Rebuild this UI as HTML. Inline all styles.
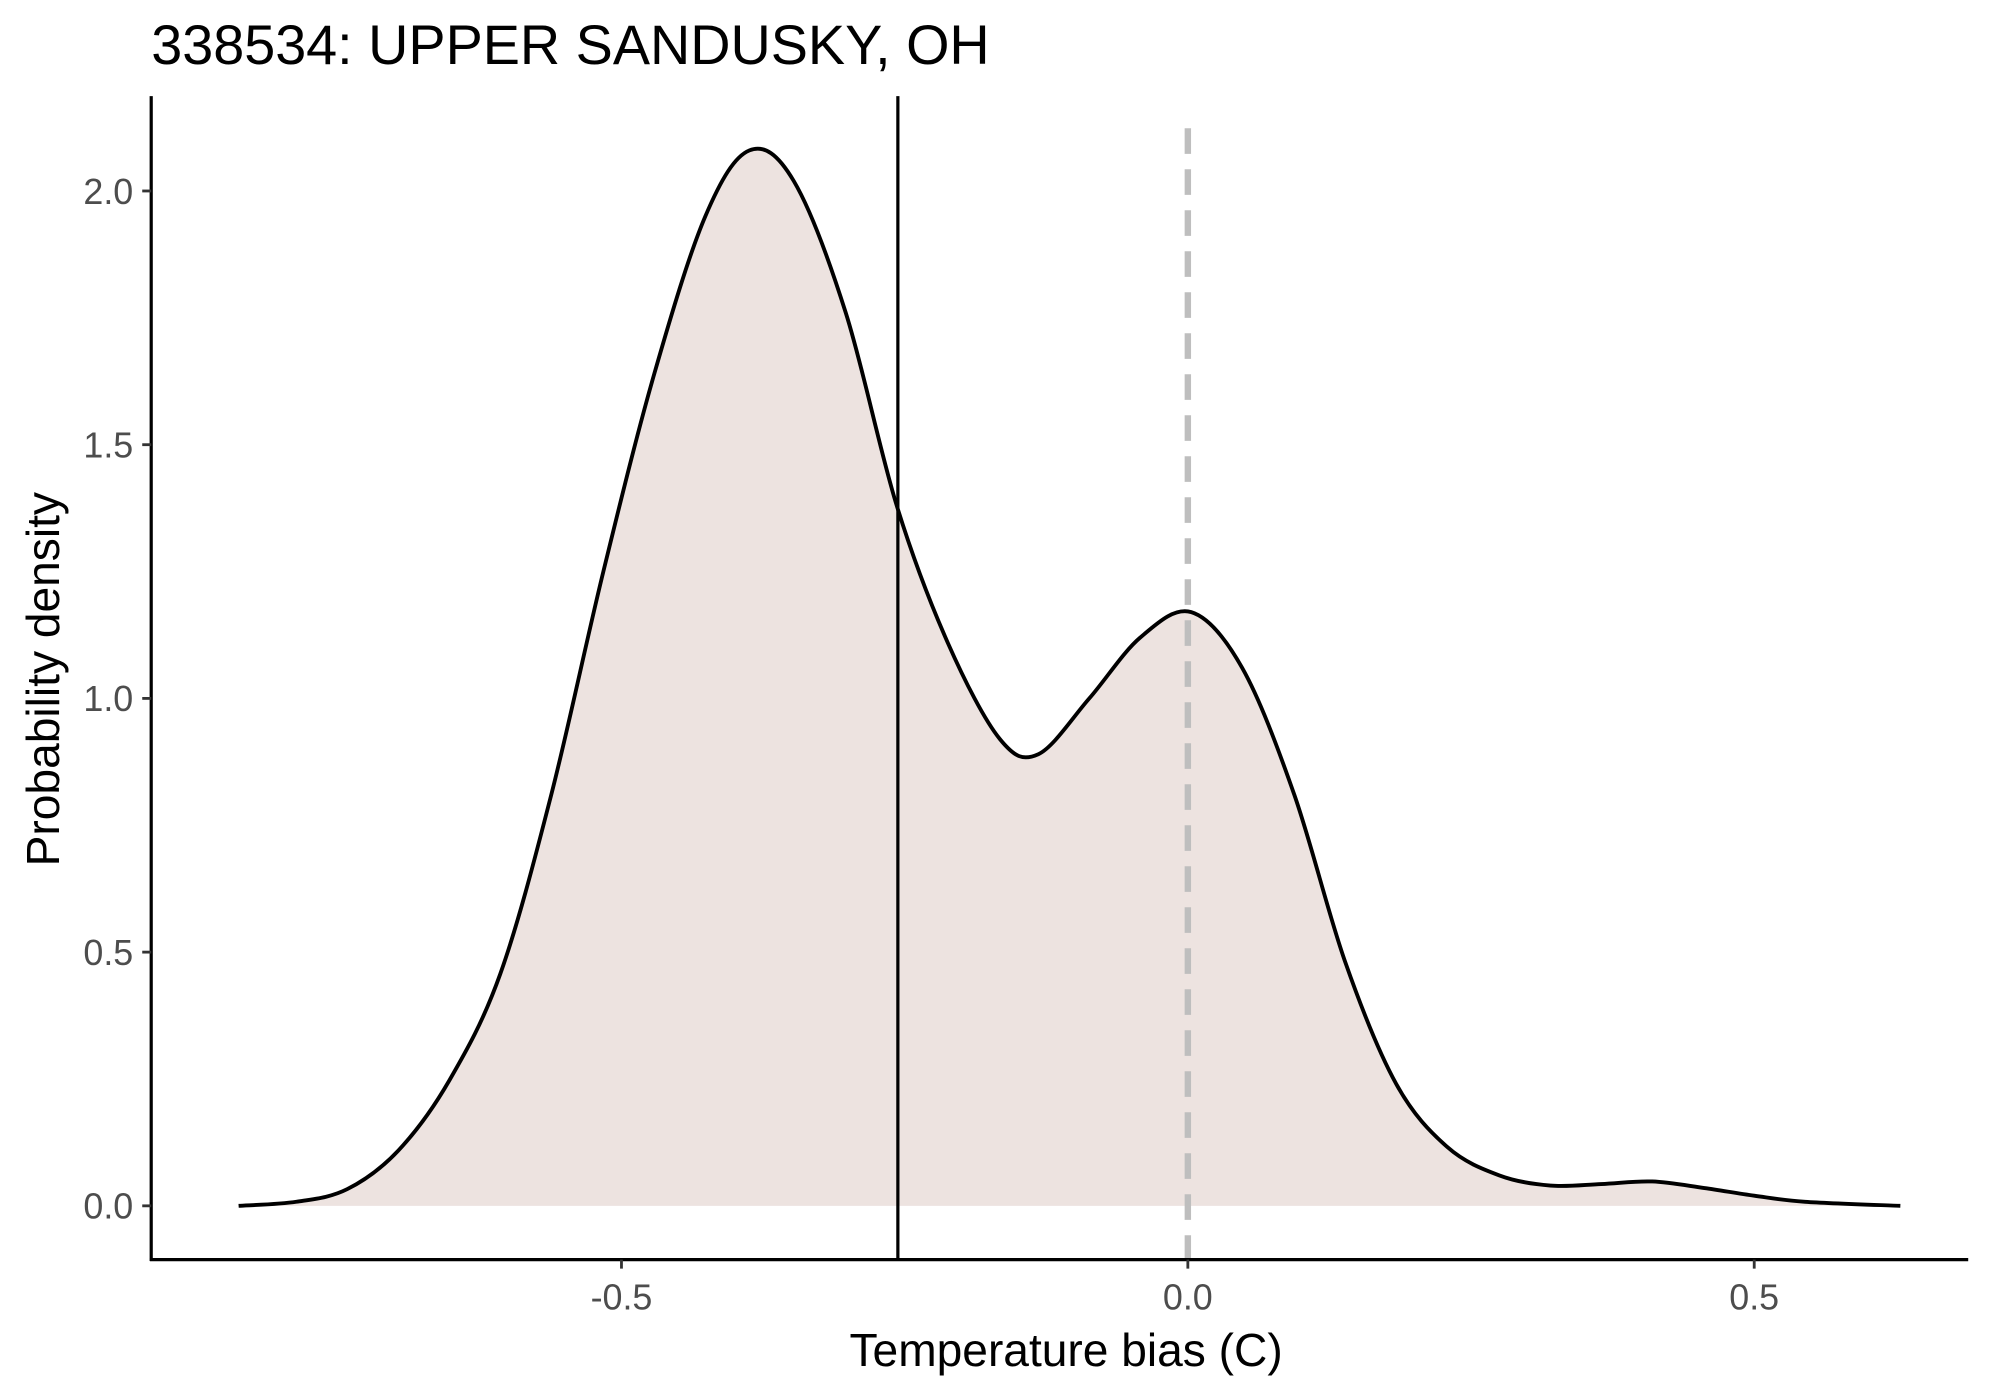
<!DOCTYPE html>
<html><head><meta charset="utf-8"><style>
html,body{margin:0;padding:0;background:#fff;}
svg{display:block;font-family:"Liberation Sans",sans-serif;}
</style></head><body>
<svg id="chart" width="1990" height="1384" viewBox="0 0 1553 1080" xmlns="http://www.w3.org/2000/svg">
<rect width="1553" height="1080" fill="#fff"/>
<text x="118" y="50" font-size="43.5" fill="#000">338534: UPPER SANDUSKY, OH</text>
<g id="plot"></g>
<line x1="118" y1="75" x2="118" y2="984" stroke="#000" stroke-width="2.5"/>
<line x1="117" y1="983" x2="1536" y2="983" stroke="#000" stroke-width="2.5"/>
<g id="yticks"></g><g id="xticks"></g>
<text x="832" y="1066" font-size="36" text-anchor="middle" fill="#000">Temperature bias (C)</text>
<text transform="translate(46,530) rotate(-90)" font-size="36" text-anchor="middle" fill="#000">Probability density</text>
</svg>
<script>
const densX=[-0.838,-0.787,-0.742,-0.697,-0.652,-0.607,-0.562,-0.516,-0.471,-0.426,-0.387,-0.348,-0.302,-0.257,-0.212,-0.166,-0.132,-0.087,-0.042,0.003,0.048,0.094,0.139,0.184,0.229,0.275,0.32,0.365,0.41,0.456,0.5,0.545,0.629];
const densY=[0,0.008,0.033,0.109,0.247,0.457,0.81,1.25,1.64,1.95,2.08,2.02,1.76,1.38,1.11,0.92,0.89,1.0,1.12,1.17,1.06,0.81,0.48,0.24,0.116,0.06,0.04,0.043,0.048,0.035,0.02,0.008,0];
const meanBias=[-0.256];
const zeroRef=[0];
const yTicks=[0,0.5,1,1.5,2];
const yTickLabels=["0.0","0.5","1.0","1.5","2.0"];
const xTicks=[-0.5,0,0.5];
const xTickLabels=["-0.5","0.0","0.5"];
const NS="http://www.w3.org/2000/svg";
const sx=v=>927+884*v, sy=v=>941-396*v;
function mk(t,a,p){const e=document.createElementNS(NS,t);for(const k in a)e.setAttribute(k,a[k]);p.appendChild(e);return e;}
const plot=document.getElementById('plot');
const pts=densX.map((x,i)=>[sx(x),sy(densY[i])]);
let d="M"+pts[0][0]+","+pts[0][1];
for(let i=0;i<pts.length-1;i++){const p0=pts[Math.max(0,i-1)],p1=pts[i],p2=pts[i+1],p3=pts[Math.min(pts.length-1,i+2)];
d+=` C${p1[0]+(p2[0]-p0[0])/6},${p1[1]+(p2[1]-p0[1])/6} ${p2[0]-(p3[0]-p1[0])/6},${p2[1]-(p3[1]-p1[1])/6} ${p2[0]},${p2[1]}`;}
const fill=mk('path',{d:d+` L${pts[pts.length-1][0]},${sy(0)} L${pts[0][0]},${sy(0)} Z`,fill:'#ede3e0',stroke:'none'},plot);


const dl=mk('line',{x1:sx(zeroRef[0]),x2:sx(zeroRef[0]),y1:100,y2:983,stroke:'#bebebe','stroke-width':5,'stroke-dasharray':'20,12'},plot);


const ml=mk('line',{x1:sx(meanBias[0]),x2:sx(meanBias[0]),y1:75,y2:983,stroke:'#000','stroke-width':2.5},plot);


const cv=mk('path',{d:d,fill:'none',stroke:'#000','stroke-width':3},plot);


const yt=document.getElementById('yticks');
yTicks.forEach((v,i)=>{const l=mk('line',{x1:111,x2:118,y1:sy(v),y2:sy(v),stroke:'#333','stroke-width':2.2},yt);


const t=mk('text',{x:104,y:sy(v)+10,'font-size':28,'text-anchor':'end',fill:'#4d4d4d'},yt);t.textContent=yTickLabels[i];

});
const xt=document.getElementById('xticks');
xTicks.forEach((v,i)=>{const l=mk('line',{x1:sx(v),x2:sx(v),y1:983,y2:990,stroke:'#333','stroke-width':2.2},xt);


const t=mk('text',{x:sx(v),y:1022,'font-size':28,'text-anchor':'middle',fill:'#4d4d4d'},xt);t.textContent=xTickLabels[i];

});
</script>
</body></html>
